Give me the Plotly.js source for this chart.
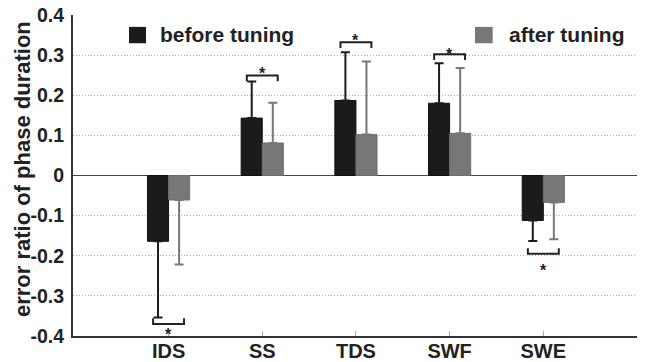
<!DOCTYPE html>
<html>
<head>
<meta charset="utf-8">
<script src="https://cdn.plot.ly/plotly-3.0.1.min.js"></script>
<style>html,body{margin:0;padding:0;background:#fff}#chart{width:646px;height:362px}</style>
</head>
<body>
<div id="chart"></div>
<script>
// ---- data ----
var categories = ["IDS", "SS", "TDS", "SWF", "SWE"];
var seriesNames = ["before tuning", "after tuning"];
var beforeMean = [-0.164, 0.143, 0.187, 0.180, -0.112];
var beforeErr  = [0.190, 0.091, 0.120, 0.100, 0.051];
var afterMean  = [-0.061, 0.081, 0.102, 0.105, -0.067];
var afterErr   = [0.161, 0.100, 0.182, 0.163, 0.092];
var sigBracketY = [-0.370, 0.249, 0.332, 0.302, -0.195];
var sigStarY    = [-0.386, 0.264, 0.347, 0.312, -0.226];
var yTicks = [-0.4, -0.3, -0.2, -0.1, 0, 0.1, 0.2, 0.3, 0.4];
var yTickText = ["-0.4", "-0.3", "-0.2", "-0.1", "0", "0.1", "0.2", "0.3", "0.4"];
var yTitle = "error ratio of phase duration";

var FONT = "Liberation Sans, Arial, sans-serif";
var BLACK = "#1b1b1b", GRAY = "#777777";
var idx = categories.map(function (c, i) { return i; });

function errUp(m, e) { return m.map(function (v, i) { return v >= 0 ? e[i] : 0; }); }
function errDown(m, e) { return m.map(function (v, i) { return v < 0 ? e[i] : 0; }); }

var traces = [
  {
    type: "bar", x: idx, y: beforeMean, name: seriesNames[0],
    marker: { color: BLACK, line: { color: "#111", width: 1 } },
    error_y: { type: "data", symmetric: false, array: errUp(beforeMean, beforeErr),
               arrayminus: errDown(beforeMean, beforeErr), color: BLACK, thickness: 2, width: 4.5 }
  },
  {
    type: "bar", x: idx, y: afterMean, name: seriesNames[1],
    marker: { color: GRAY, line: { color: "#6e6e6e", width: 1 } },
    error_y: { type: "data", symmetric: false, array: errUp(afterMean, afterErr),
               arrayminus: errDown(afterMean, afterErr), color: GRAY, thickness: 2, width: 4.5 }
  }
];

var shapes = [], annotations = [];
var halfW = 0.165, leg = 0.014;
sigBracketY.forEach(function (y, i) {
  var dir = y >= 0 ? -1 : 1; // legs point toward the bars
  shapes.push({
    type: "path", xref: "x", yref: "y",
    path: "M" + (i - halfW) + "," + (y + dir * leg) + " L" + (i - halfW) + "," + y +
          " L" + (i + halfW) + "," + y + " L" + (i + halfW) + "," + (y + dir * leg),
    line: { color: "#222", width: 2 }
  });
  annotations.push({
    xref: "x", yref: "y", x: i, y: sigStarY[i], text: "*", showarrow: false,
    xanchor: "center", yanchor: "middle", height: 9, valign: "top",
    font: { family: FONT, size: 16, color: "#222", weight: "bold" }
  });
});

// manual legend
var legendItems = [
  { name: seriesNames[0], color: BLACK, sx0: 0.0993, sx1: 0.1294, tx: 0.1507 },
  { name: seriesNames[1], color: GRAY, sx0: 0.7128, sx1: 0.7441, tx: 0.769 }
];
legendItems.forEach(function (it) {
  shapes.push({ type: "rect", xref: "paper", yref: "paper", x0: it.sx0, x1: it.sx1,
    y0: 0.912, y1: 0.963, fillcolor: it.color, line: { width: 0 } });
  annotations.push({ xref: "paper", yref: "paper", x: it.tx, y: 0.9377, text: it.name,
    showarrow: false, xanchor: "left", yanchor: "middle",
    font: { family: FONT, size: 21, color: "#222", weight: "bold" } });
});

// y-axis title as annotation for exact placement
annotations.push({ xref: "paper", yref: "paper", x: -0.0905, y: 0.52, text: yTitle,
  textangle: -90, showarrow: false, xanchor: "center", yanchor: "middle",
  font: { family: FONT, size: 22, color: "#222", weight: "bold" } });

var layout = {
  width: 646, height: 362,
  margin: { l: 73, r: 9, t: 15, b: 26, pad: 0 },
  paper_bgcolor: "#fff", plot_bgcolor: "#fff",
  barmode: "group", bargap: 0.55, bargroupgap: 0,
  showlegend: false,
  font: { family: FONT, color: "#222" },
  xaxis: {
    range: [-1.02, 5.0], tickvals: idx, ticktext: categories,
    ticks: "inside", ticklen: 5, tickcolor: "#aaa", tickwidth: 1,
    showgrid: false, zeroline: false,
    showline: true, linecolor: "#333", linewidth: 2,
    tickfont: { family: FONT, size: 20, color: "#222", weight: "bold" },
    ticklabelstandoff: -4,
    fixedrange: true
  },
  yaxis: {
    range: [-0.4, 0.4], tickvals: yTicks, ticktext: yTickText,
    ticks: "", showgrid: true, gridcolor: "#b0b0b0", griddash: "1px,2px", gridwidth: 1,
    zeroline: true, zerolinecolor: "#444", zerolinewidth: 1.5,
    showline: true, linecolor: "#333", linewidth: 2,
    tickfont: { family: FONT, size: 19.5, color: "#222", weight: "bold" },
    ticklabelstandoff: 3,
    fixedrange: true
  },
  shapes: shapes,
  annotations: annotations
};

Plotly.newPlot("chart", traces, layout, { displayModeBar: false, staticPlot: true });
</script>
</body>
</html>
